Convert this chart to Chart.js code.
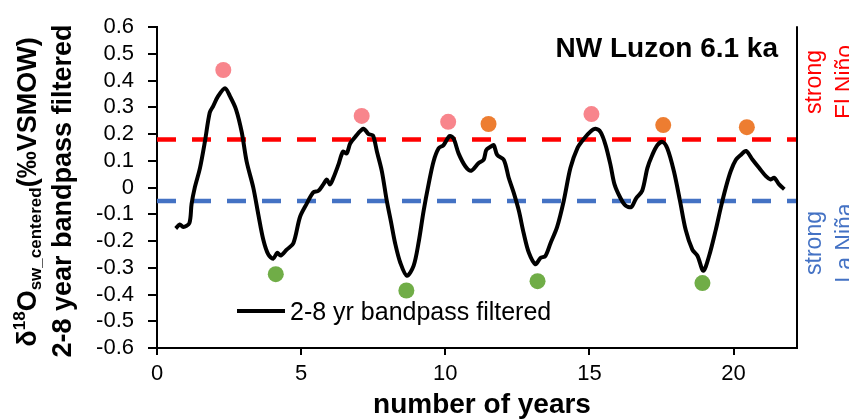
<!DOCTYPE html>
<html>
<head>
<meta charset="utf-8">
<script src="https://cdn.jsdelivr.net/npm/chart.js@4/dist/chart.umd.min.js"></script>
<style>
  html, body { margin: 0; padding: 0; background: #fff; }
  #wrap { width: 849px; height: 420px; position: relative; }
</style>
</head>
<body>
<div id="wrap"><canvas id="chart" width="849" height="420"></canvas></div>
<script>
// Time axis (years) of the filtered record
const years = [
  0.65, 0.79, 0.91, 1.12, 1.20, 1.31, 1.49, 1.66, 1.83, 1.95,
  2.12, 2.36, 2.53, 2.74, 2.94, 3.11, 3.34, 3.51, 3.69, 3.86,
  4.03, 4.17, 4.29, 4.50, 4.73, 4.96, 5.19, 5.42, 5.60, 5.77,
  5.89, 6.00, 6.12, 6.29, 6.45, 6.58, 6.70, 6.87, 7.16, 7.34,
  7.49, 7.63, 7.80, 7.97, 8.12, 8.26, 8.44, 8.67, 8.90, 9.07,
  9.25, 9.42, 9.59, 9.77, 9.94, 10.15, 10.29, 10.46, 10.70, 10.90,
  11.16, 11.33, 11.42, 11.56, 11.68, 11.80, 12.03, 12.20, 12.37, 12.55,
  12.72, 12.90, 13.13, 13.30, 13.47, 13.65, 13.88, 14.11, 14.34, 14.58,
  14.81, 15.04, 15.21, 15.39, 15.56, 15.73, 15.87, 16.08, 16.25, 16.45,
  16.62, 16.83, 17.01, 17.18, 17.36, 17.53, 17.70, 17.93, 18.14, 18.34,
  18.57, 18.75, 18.95, 19.15, 19.38, 19.56, 19.73, 19.90, 20.08, 20.25,
  20.43, 20.66, 20.89, 21.12, 21.29, 21.41, 21.58, 21.76
];

// 2-8 yr bandpass filtered d18O_sw (centered)
const filtered = [
  -0.153, -0.138, -0.147, -0.134, -0.061, 0.000, 0.073, 0.171, 0.281, 0.305,
  0.342, 0.372, 0.342, 0.293, 0.207, 0.097, 0.000, -0.098, -0.196, -0.250,
  -0.266, -0.244, -0.254, -0.232, -0.208, -0.110, -0.061, -0.018, -0.012, 0.012,
  0.030, 0.012, 0.037, 0.085, 0.134, 0.128, 0.165, 0.189, 0.220, 0.200,
  0.195, 0.134, 0.061, -0.049, -0.130, -0.208, -0.281, -0.330, -0.293, -0.208,
  -0.086, 0.012, 0.097, 0.147, 0.159, 0.193, 0.183, 0.128, 0.079, 0.063,
  0.092, 0.104, 0.140, 0.152, 0.159, 0.122, 0.104, 0.037, -0.018, -0.086,
  -0.171, -0.244, -0.287, -0.263, -0.256, -0.208, -0.147, -0.049, 0.073, 0.147,
  0.183, 0.210, 0.220, 0.207, 0.159, 0.085, 0.012, -0.040, -0.067, -0.073,
  -0.040, -0.012, 0.073, 0.122, 0.159, 0.171, 0.147, 0.061, -0.049, -0.159,
  -0.232, -0.256, -0.311, -0.256, -0.159, -0.073, 0.000, 0.061, 0.104, 0.122,
  0.137, 0.104, 0.073, 0.043, 0.030, 0.037, 0.012, -0.006
];

// Event markers
const strongElNinoX = [2.30, 7.10, 10.10, 15.07];
const strongElNinoY = [0.440, 0.268, 0.246, 0.275];
const elNinoX = [11.50, 17.56, 20.46];
const elNinoY = [0.238, 0.234, 0.226];
const laNinaX = [4.12, 8.65, 13.20, 18.92];
const laNinaY = [-0.324, -0.385, -0.350, -0.357];

// Threshold lines
const elNinoThreshold = 0.18;
const laNinaThreshold = -0.05;

// Axis ranges and labels
const xRange = [0, 22.2];
const yRange = [-0.6, 0.6];
const siteTitle = 'NW Luzon 6.1 ka';
const xTitle = 'number of years';
const legendLabel = '2-8 yr bandpass filtered';

const FONT = "'Liberation Sans', Arial, Helvetica, sans-serif";

const toPoints = (xs, ys) => xs.map((x, i) => ({ x, y: ys[i] }));

const annotations = {
  id: 'annotations',
  afterDraw(chart) {
    const ctx = chart.ctx;
    const a = chart.chartArea;
    ctx.save();

    // right frame
    ctx.strokeStyle = '#000';
    ctx.lineWidth = 2;
    ctx.beginPath();
    ctx.moveTo(a.right, a.top - 1);
    ctx.lineTo(a.right, a.bottom + 1);
    ctx.stroke();

    // panel title
    ctx.fillStyle = '#000';
    ctx.font = `bold 28px ${FONT}`;
    ctx.textAlign = 'right';
    ctx.textBaseline = 'alphabetic';
    ctx.fillText(siteTitle, 778, 57);

    // legend
    ctx.strokeStyle = '#000';
    ctx.lineWidth = 4;
    ctx.beginPath();
    ctx.moveTo(237, 311);
    ctx.lineTo(285, 311);
    ctx.stroke();
    ctx.font = `25px ${FONT}`;
    ctx.textAlign = 'left';
    ctx.fillText(legendLabel, 290, 320);

    // x axis title
    ctx.font = `bold 28px ${FONT}`;
    ctx.textAlign = 'center';
    ctx.fillText(xTitle, 482, 413);

    // y axis title, first line with super/subscripts
    const segs = [
      { t: 'δ', s: 27, dy: 0 },
      { t: '18', s: 17, dy: -11 },
      { t: 'O', s: 27, dy: 0 },
      { t: 'sw_centered', s: 17, dy: 5 },
      { t: '(‰VSMOW)', s: 27, dy: 0 }
    ];
    let total = 0;
    segs.forEach(g => { ctx.font = `bold ${g.s}px ${FONT}`; g.w = ctx.measureText(g.t).width; total += g.w; });
    ctx.save();
    ctx.translate(36, 192);
    ctx.rotate(-Math.PI / 2);
    ctx.textAlign = 'left';
    let cx = -total / 2;
    segs.forEach(g => { ctx.font = `bold ${g.s}px ${FONT}`; ctx.fillText(g.t, cx, g.dy); cx += g.w; });
    ctx.restore();

    // y axis title, second line
    ctx.save();
    ctx.translate(71, 191);
    ctx.rotate(-Math.PI / 2);
    ctx.font = `bold 27px ${FONT}`;
    ctx.textAlign = 'center';
    ctx.fillText('2-8 year bandpass filtered', 0, 0);
    ctx.restore();

    // side labels for the threshold lines
    const side = (lines, color, cy) => {
      ctx.save();
      ctx.fillStyle = color;
      ctx.font = `23px ${FONT}`;
      ctx.textAlign = 'center';
      lines.forEach((txt, i) => {
        ctx.save();
        ctx.translate(821 + i * 31, cy);
        ctx.rotate(-Math.PI / 2);
        ctx.fillText(txt, 0, 0);
        ctx.restore();
      });
      ctx.restore();
    };
    side(['strong', 'El Niño'], '#FF0000', 82);
    side(['strong', 'La Niña'], '#4472C4', 243);

    ctx.restore();
  }
};

new Chart(document.getElementById('chart'), {
  type: 'scatter',
  data: {
    datasets: [
      {
        label: legendLabel,
        data: toPoints(years, filtered),
        showLine: true,
        borderColor: '#000',
        borderWidth: 4,
        pointRadius: 0,
        tension: 0.3,
        order: 1
      },
      {
        label: 'El Niño threshold',
        data: toPoints(xRange, [elNinoThreshold, elNinoThreshold]),
        showLine: true,
        borderColor: '#FF0000',
        borderWidth: 4.5,
        borderDash: [19, 16],
        pointRadius: 0,
        order: 3
      },
      {
        label: 'La Niña threshold',
        data: toPoints(xRange, [laNinaThreshold, laNinaThreshold]),
        showLine: true,
        borderColor: '#4472C4',
        borderWidth: 4.5,
        borderDash: [19, 16],
        pointRadius: 0,
        order: 3
      },
      {
        label: 'strong El Niño',
        data: toPoints(strongElNinoX, strongElNinoY),
        backgroundColor: '#F8858C',
        borderWidth: 0,
        pointRadius: 8,
        order: 0
      },
      {
        label: 'El Niño',
        data: toPoints(elNinoX, elNinoY),
        backgroundColor: '#ED7D31',
        borderWidth: 0,
        pointRadius: 8,
        order: 0
      },
      {
        label: 'La Niña',
        data: toPoints(laNinaX, laNinaY),
        backgroundColor: '#70AD47',
        borderWidth: 0,
        pointRadius: 8,
        order: 0
      }
    ]
  },
  options: {
    responsive: false,
    animation: false,
    devicePixelRatio: 1,
    layout: { autoPadding: false, padding: { top: 20, right: 52, bottom: 0, left: 0 } },
    plugins: { legend: { display: false }, tooltip: { enabled: false } },
    scales: {
      x: {
        type: 'linear',
        min: xRange[0],
        max: xRange[1],
        afterFit(s) { s.height = 72; },
        ticks: {
          stepSize: 5,
          includeBounds: false,
          color: '#000',
          font: { family: FONT, size: 22 },
          padding: 6,
          maxRotation: 0,
          autoSkip: false
        },
        grid: { drawOnChartArea: false, drawTicks: true, tickLength: 7, color: '#000', lineWidth: 2 },
        border: { color: '#000', width: 2 }
      },
      y: {
        min: yRange[0],
        max: yRange[1],
        afterFit(s) { s.width = 157; },
        ticks: {
          stepSize: 0.1,
          color: '#000',
          font: { family: FONT, size: 22 },
          padding: 14,
          autoSkip: false,
          callback: v => { const r = Math.round(v * 10) / 10; return r === 0 ? '0' : r.toFixed(1); }
        },
        grid: { drawOnChartArea: false, drawTicks: true, tickLength: 9, color: '#000', lineWidth: 2 },
        border: { color: '#000', width: 2 }
      }
    }
  },
  plugins: [annotations]
});
</script>
</body>
</html>
